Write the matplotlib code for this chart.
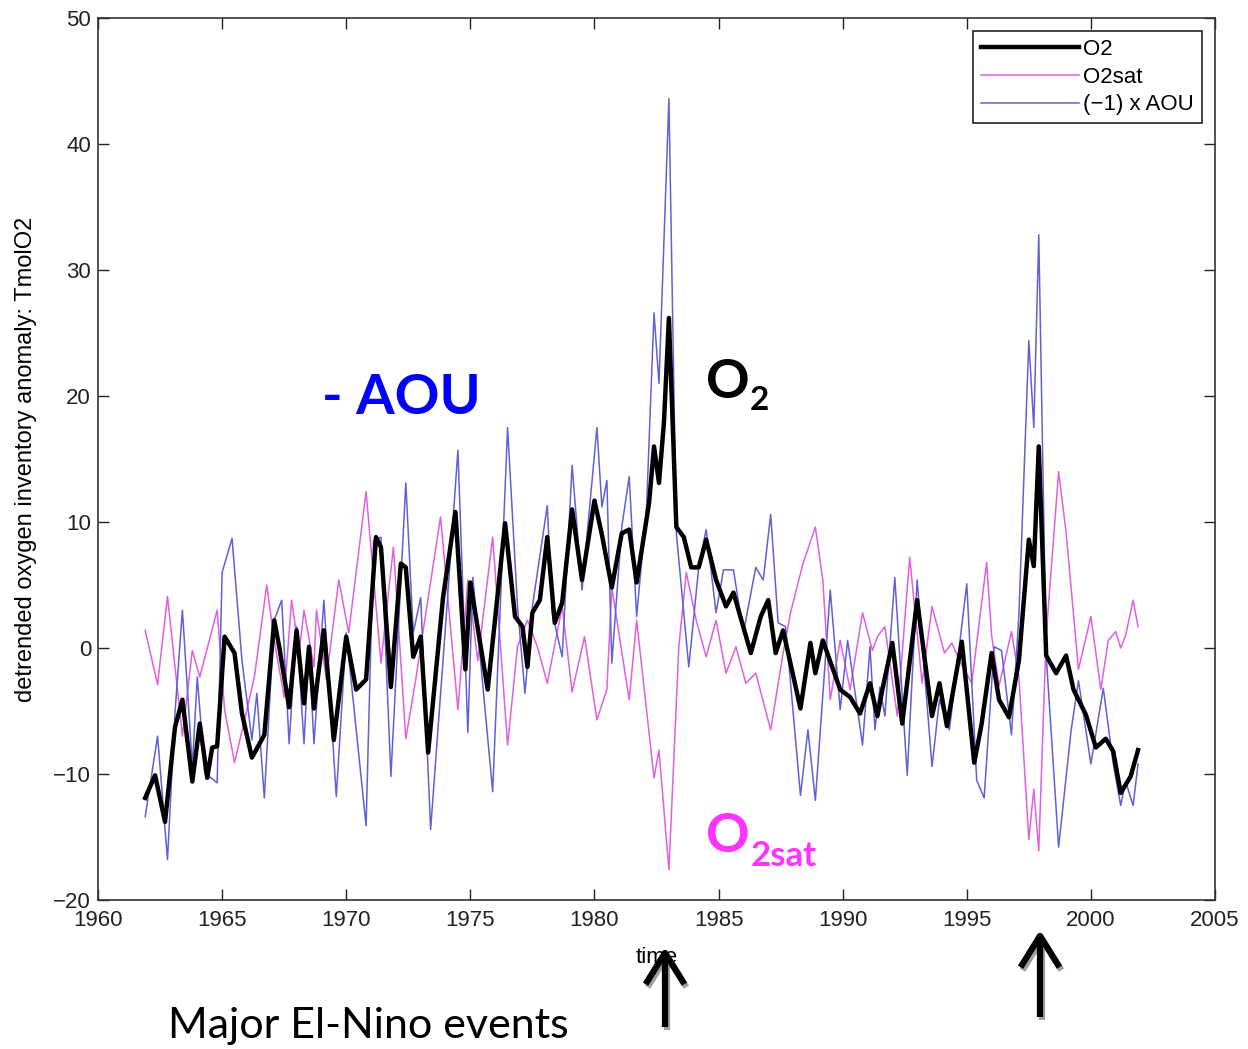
import numpy as np
import matplotlib.pyplot as plt
from matplotlib.patches import FancyArrowPatch

# ---- data (year, anomaly in TmolO2) ----
o2_t = [1961.9, 1962.3, 1962.7, 1963.1, 1963.4, 1963.8, 1964.1, 1964.4, 1964.6, 1964.8,
        1965.1, 1965.5, 1965.8, 1966.2, 1966.7, 1967.1, 1967.3, 1967.7, 1968.0, 1968.3,
        1968.5, 1968.7, 1969.1, 1969.5, 1970.0, 1970.4, 1970.8, 1971.2, 1971.4, 1971.8,
        1972.2, 1972.4, 1972.7, 1973.0, 1973.3, 1973.9, 1974.4, 1974.8, 1975.0, 1975.7,
        1976.4, 1976.8, 1977.1, 1977.3, 1977.5, 1977.8, 1978.1, 1978.4, 1978.7, 1979.1,
        1979.5, 1980.0, 1980.3, 1980.7, 1981.1, 1981.4, 1981.7, 1982.2, 1982.4, 1982.6,
        1982.8, 1983.0, 1983.3, 1983.6, 1983.9, 1984.2, 1984.5, 1984.9, 1985.3, 1985.6,
        1986.3, 1986.7, 1987.0, 1987.3, 1987.6, 1988.3, 1988.7, 1988.9, 1989.2, 1989.9,
        1990.3, 1990.7, 1991.1, 1991.4, 1991.6, 1992.0, 1992.4, 1993.0, 1993.6, 1993.9,
        1994.2, 1994.8, 1995.3, 1995.6, 1996.0, 1996.3, 1996.7, 1997.1, 1997.5, 1997.7,
        1997.9, 1998.2, 1998.6, 1999.0, 1999.3, 1999.8, 2000.2, 2000.6, 2000.9, 2001.2,
        2001.6, 2001.9]
o2_v = [-11.9, -10.1, -13.8, -6.3, -4.1, -10.6, -6.0, -10.3, -7.9, -7.8,
        0.9, -0.4, -5.2, -8.7, -6.9, 2.2, 0.1, -4.7, 1.4, -4.4,
        0.1, -4.8, 1.4, -7.3, 0.9, -3.3, -2.5, 8.8, 8.0, -3.1,
        6.7, 6.4, -0.7, 0.9, -8.3, 4.0, 10.8, -1.7, 5.2, -3.3,
        9.9, 2.5, 1.7, -1.5, 2.8, 3.8, 8.8, 2.0, 3.6, 11.0,
        5.4, 11.7, 9.0, 4.8, 9.1, 9.4, 5.2, 11.5, 16.0, 13.1,
        17.9, 26.2, 9.6, 8.8, 6.4, 6.4, 8.6, 5.4, 3.3, 4.4,
        -0.4, 2.5, 3.8, -0.4, 1.4, -4.8, 0.4, -2.0, 0.6, -3.3,
        -3.9, -5.2, -2.8, -5.4, -3.3, 0.4, -6.0, 3.8, -5.4, -2.8,
        -6.2, 0.5, -9.1, -6.0, -0.4, -4.1, -5.5, -1.0, 8.6, 6.5,
        16.0, -0.6, -2.0, -0.6, -3.3, -5.3, -7.9, -7.2, -8.2, -11.5,
        -10.2, -8.1]

sat_t = [1961.9, 1962.4, 1962.8, 1963.4, 1963.8, 1964.1, 1964.8, 1965.1, 1965.5, 1966.0,
         1966.3, 1966.8, 1967.1, 1967.5, 1967.8, 1968.1, 1968.3, 1968.7, 1968.8, 1969.2,
         1969.7, 1970.1, 1970.8, 1971.4, 1971.9, 1972.4, 1972.8, 1973.8, 1974.5, 1974.9,
         1975.3, 1975.9, 1976.5, 1976.9, 1977.3, 1977.7, 1978.1, 1978.7, 1979.1, 1979.6,
         1980.1, 1980.5, 1980.7, 1981.4, 1981.7, 1982.4, 1982.6, 1983.0, 1983.4, 1983.7,
         1984.1, 1984.5, 1984.9, 1985.3, 1985.7, 1986.1, 1986.5, 1987.1, 1987.6, 1987.9,
         1988.4, 1988.9, 1989.2, 1989.5, 1989.9, 1990.3, 1990.8, 1991.2, 1991.4, 1991.7,
         1992.2, 1992.7, 1993.2, 1993.6, 1994.1, 1994.4, 1994.7, 1995.2, 1995.8, 1996.0,
         1996.3, 1996.8, 1997.1, 1997.5, 1997.7, 1997.9, 1998.2, 1998.7, 1999.0, 1999.5,
         2000.0, 2000.4, 2000.7, 2001.0, 2001.2, 2001.4, 2001.7, 2001.9]
sat_v = [1.4, -2.9, 4.1, -7.0, -0.2, -2.3, 3.0, -4.9, -9.1, -4.9,
         -2.3, 5.0, 0.6, -3.9, 3.8, -0.4, 3.0, -1.5, 3.0, -2.5,
         5.4, 1.2, 12.4, -1.2, 8.0, -7.2, -2.5, 10.4, -4.9, 5.4,
         -1.0, 8.8, -7.7, 0.1, 2.2, 0.1, -2.8, 3.3, -3.5, 0.9,
         -5.7, -3.3, 4.8, -4.1, 2.2, -10.3, -8.1, -17.6, 0.1, 6.0,
         2.2, -0.7, 2.2, -2.0, 0.1, -2.8, -2.0, -6.5, -0.4, 2.8,
         6.7, 9.6, 5.4, -4.1, 0.6, -3.3, 2.8, -0.2, 0.9, 1.7,
         -5.4, 7.2, -2.8, 3.3, -0.4, 0.4, -1.0, -2.8, 6.8, 1.0,
         -3.0, 1.3, -2.3, -15.2, -11.2, -16.1, 1.0, 14.0, 9.2, -1.7,
         2.5, -3.3, 0.6, 1.3, 0.0, 1.0, 3.8, 1.7]

aou_t = [1961.9, 1962.4, 1962.8, 1963.1, 1963.4, 1963.8, 1964.0, 1964.3, 1964.8, 1965.0,
         1965.4, 1965.8, 1966.2, 1966.4, 1966.7, 1967.1, 1967.4, 1967.7, 1968.0, 1968.3,
         1968.5, 1968.7, 1969.1, 1969.6, 1970.0, 1970.8, 1971.1, 1971.4, 1971.8, 1972.4,
         1972.7, 1973.0, 1973.4, 1974.0, 1974.5, 1974.9, 1975.1, 1975.9, 1976.5, 1976.9,
         1977.2, 1977.5, 1978.1, 1978.3, 1978.7, 1979.1, 1979.5, 1980.1, 1980.3, 1980.5,
         1980.7, 1981.1, 1981.4, 1981.7, 1982.1, 1982.4, 1982.6, 1983.0, 1983.3, 1983.8,
         1984.2, 1984.5, 1984.9, 1985.2, 1985.6, 1986.0, 1986.5, 1986.8, 1987.1, 1987.4,
         1987.7, 1988.3, 1988.6, 1988.9, 1989.5, 1989.9, 1990.2, 1990.8, 1991.1, 1991.3,
         1991.5, 1991.7, 1992.1, 1992.6, 1993.0, 1993.6, 1993.9, 1994.3, 1995.0, 1995.4,
         1995.7, 1996.1, 1996.4, 1996.8, 1997.1, 1997.5, 1997.7, 1997.9, 1998.2, 1998.7,
         1999.2, 1999.5, 2000.0, 2000.5, 2000.9, 2001.2, 2001.4, 2001.7, 2001.9]
aou_v = [-13.4, -7.0, -16.8, -5.2, 3.0, -9.4, -2.3, -9.9, -10.7, 6.0,
         8.7, -1.0, -7.3, -3.6, -11.9, 2.2, 3.8, -7.6, 1.7, -7.6,
         0.1, -7.6, 3.8, -11.8, 1.2, -14.1, 8.5, 8.8, -10.2, 13.1,
         1.2, 4.0, -14.4, 1.7, 15.7, -6.7, 5.6, -11.4, 17.5, 3.3,
         -3.6, 3.3, 11.3, 2.8, -0.7, 14.5, 4.6, 17.5, 11.2, 13.3,
         -1.2, 9.6, 13.6, 2.5, 11.2, 26.6, 21.0, 43.6, 9.1, -1.5,
         6.4, 9.4, 2.8, 6.2, 6.2, 1.2, 6.4, 5.4, 10.6, 2.0,
         1.7, -11.7, -6.5, -12.1, 4.6, -4.9, 0.6, -7.7, 0.1, -6.5,
         -3.1, -5.4, 5.6, -10.1, 5.4, -9.4, -4.1, -6.5, 5.1, -10.5,
         -11.9, 0.1, -0.2, -6.9, 2.6, 24.4, 17.5, 32.8, -0.6, -15.8,
         -6.6, -2.6, -9.2, -3.2, -9.2, -12.5, -10.6, -12.5, -9.2]

xticks = np.arange(1960, 2006, 5)
yticks = np.arange(-20, 51, 10)

W, H = 1248, 1049
fig = plt.figure(figsize=(W / 100, H / 100), dpi=100)
ax = fig.add_axes([98 / W, 1 - 900 / H, (1215 - 98) / W, (900 - 18) / H])

ax.plot(sat_t, sat_v, color='#e060e0', lw=1.1, label='O2sat', zorder=2,
        solid_joinstyle='round')
ax.plot(aou_t, aou_v, color='#6060d8', lw=1.1, label='(\u22121) x AOU', zorder=3,
        solid_joinstyle='round')
ax.plot(o2_t, o2_v, color='black', lw=3.2, label='O2', zorder=4,
        solid_joinstyle='round')

ax.set_xlim(1960, 2005)
ax.set_ylim(-20, 50)
ax.set_xticks(xticks)
ax.set_yticks(yticks)
ax.set_yticklabels([str(v).replace('-', '\u2212') for v in yticks])
ax.tick_params(direction='in', length=8, width=1, top=True, right=True,
               labelsize=16, colors='#222222')
ax.tick_params(axis='x', pad=7)
ax.tick_params(axis='y', pad=5)
for s in ax.spines.values():
    s.set_linewidth(1.2)
    s.set_color('#333333')
for lab in ax.get_xticklabels() + ax.get_yticklabels():
    lab.set_family('Liberation Sans')

ax.set_xlabel('time', fontsize=16, family='Liberation Sans', labelpad=12)
ax.set_ylabel('detrended oxygen inventory anomaly: TmolO2', fontsize=17,
              family='Liberation Sans', labelpad=12)

h, l = ax.get_legend_handles_labels()
order = [2, 0, 1]
leg = ax.legend([h[i] for i in order], [l[i] for i in order], loc='upper right',
                prop={'family': 'Liberation Sans', 'size': 16},
                fancybox=False, edgecolor='#222222', framealpha=1,
                handlelength=4.4, handletextpad=0.2, borderpad=0.35,
                labelspacing=0.3, borderaxespad=0.6)
leg.get_frame().set_linewidth(1.2)


def fx(px):
    return px / W


def fy(py):
    return 1 - py / H


# big annotation labels
fig.text(fx(322), fy(398), '- AOU', color='#0000ff', fontsize=40, fontweight='bold',
         family='Lato', va='center', ha='left')
fig.text(fx(706), fy(382), 'O', color='black', fontsize=39, fontweight='bold',
         family='Lato', va='center', ha='left')
fig.text(fx(750), fy(400), '2', color='black', fontsize=24, fontweight='bold',
         family='Lato', va='center', ha='left')
fig.text(fx(706), fy(836), 'O', color='#ff33ff', fontsize=39, fontweight='bold',
         family='Lato', va='center', ha='left')
fig.text(fx(751), fy(856), '2sat', color='#ff33ff', fontsize=25, fontweight='bold',
         family='Lato', va='center', ha='left')

fig.text(fx(168), fy(1026), 'Major El-Nino events', color='black', fontsize=31,
         family='Lato', va='center', ha='left')

# El-Nino arrows (with a soft grey shadow like the original)
style = '->,head_length=0.45,head_width=0.28'
for xa, y0, y1 in [(665, 1027, 947), (1040, 1017, 930)]:
    for dx, dy, col in [(2, 3, '#a0a0a0'), (0, 0, 'black')]:
        fig.patches.append(FancyArrowPatch(
            (fx(xa + dx), fy(y0 + dy)), (fx(xa + dx), fy(y1 + dy)),
            transform=fig.transFigure, arrowstyle=style, mutation_scale=50,
            lw=4.5, color=col, shrinkA=0, shrinkB=0, capstyle='butt'))

fig.savefig('out.png', dpi=100)
